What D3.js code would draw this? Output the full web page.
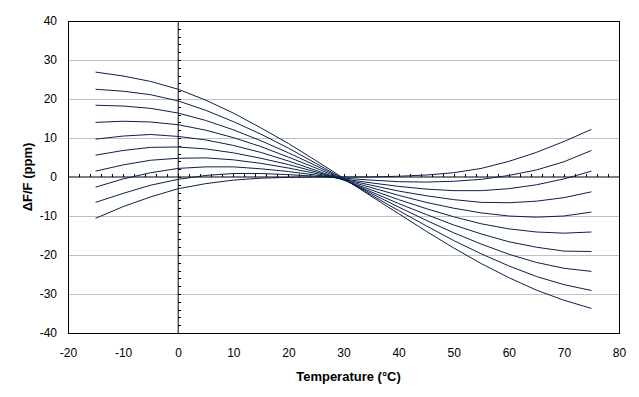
<!DOCTYPE html>
<html>
<head>
<meta charset="utf-8">
<script src="https://cdn.jsdelivr.net/npm/d3@7"></script>
<style>
  body { margin: 0; background: #fff; }
  text { font-family: "Liberation Sans", Arial, sans-serif; }
</style>
</head>
<body>
<div id="chart"></div>
<script>
// temperature points (°C)
var temps = [-15, -10, -5, 0, 5, 10, 15, 20, 25, 30, 35, 40, 45, 50, 55, 60, 65, 70, 75];

// frequency deviation curves (ppm), one per cut angle
var curve1  = [26.9, 25.9, 24.5, 22.5, 19.7, 16.4, 12.6, 8.6, 4.2, -0.3, -4.9, -9.4, -13.9, -18.2, -22.2, -25.8, -29.0, -31.6, -33.7];
var curve2  = [22.5, 22.0, 21.1, 19.5, 17.1, 14.2, 11.0, 7.4, 3.5, -0.5, -4.6, -8.6, -12.5, -16.3, -19.7, -22.8, -25.5, -27.6, -29.1];
var curve3  = [18.4, 18.2, 17.6, 16.4, 14.5, 12.1, 9.3, 6.2, 2.9, -0.6, -4.2, -7.7, -11.1, -14.3, -17.2, -19.8, -21.9, -23.4, -24.2];
var curve4  = [14.0, 14.3, 14.1, 13.4, 12.0, 10.1, 7.8, 5.1, 2.3, -0.7, -3.8, -6.8, -9.6, -12.3, -14.6, -16.6, -18.0, -19.0, -19.1];
var curve5  = [9.7, 10.5, 10.9, 10.4, 9.5, 8.1, 6.3, 4.1, 1.7, -0.8, -3.3, -5.8, -8.1, -10.2, -12.0, -13.3, -14.1, -14.4, -14.1];
var curve6  = [5.6, 6.8, 7.6, 7.7, 7.2, 6.2, 4.8, 3.2, 1.3, -0.7, -2.7, -4.7, -6.5, -8.0, -9.2, -10.0, -10.3, -10.0, -9.0];
var curve7  = [1.5, 3.1, 4.3, 4.8, 4.9, 4.4, 3.5, 2.3, 0.9, -0.6, -2.1, -3.6, -4.8, -5.8, -6.5, -6.6, -6.2, -5.3, -3.8];
var curve8  = [-2.6, -0.5, 1.1, 2.2, 2.6, 2.6, 2.1, 1.4, 0.5, -0.5, -1.5, -2.4, -3.1, -3.5, -3.5, -3.0, -2.0, -0.5, 1.5];
var curve9  = [-6.5, -4.2, -2.1, -0.6, 0.4, 0.9, 0.9, 0.6, 0.2, -0.3, -0.8, -1.2, -1.3, -1.1, -0.6, 0.4, 1.8, 3.9, 6.8];
var curve10 = [-10.6, -7.6, -5.1, -3.0, -1.7, -0.8, -0.3, -0.1, 0.0, 0.0, 0.0, 0.2, 0.5, 1.1, 2.2, 4.0, 6.3, 9.1, 12.2];

var curves = [curve1, curve2, curve3, curve4, curve5, curve6, curve7, curve8, curve9, curve10];

// axis ticks
var xTicks = [-20, -10, 0, 10, 20, 30, 40, 50, 60, 70, 80];
var yTicks = [-40, -30, -20, -10, 0, 10, 20, 30, 40];
var xTitle = "Temperature (°C)";
var yTitle = "ΔF/F (ppm)";

var margin = {top: 21, right: 20, bottom: 64, left: 68},
    width = 639 - margin.left - margin.right,
    height = 397 - margin.top - margin.bottom;

// plain hyphen minus like the original labels
var plain = function(d) { return String(d); };

var svg = d3.select("#chart")
  .append("svg")
    .attr("width", 639)
    .attr("height", 397)
  .append("g")
    .attr("transform", "translate(" + margin.left + "," + margin.top + ")");

var x = d3.scaleLinear().domain([-20, 80]).range([0, width]);
var y = d3.scaleLinear().domain([-40, 40]).range([height, 0]);

// grey gridlines every 10 ppm
svg.append("g")
  .selectAll("line")
  .data(yTicks.filter(function(d) { return d !== 0 && Math.abs(d) !== 40; }))
  .enter().append("line")
    .attr("x1", 0).attr("x2", width)
    .attr("y1", function(d) { return y(d); })
    .attr("y2", function(d) { return y(d); })
    .attr("stroke", "#c0c0c0")
    .attr("shape-rendering", "crispEdges");

// plot frame
svg.append("rect")
  .attr("x", 0).attr("y", 0)
  .attr("width", width).attr("height", height)
  .attr("fill", "none")
  .attr("stroke", "#000")
  .attr("shape-rendering", "crispEdges");

// tick labels sit outside the frame (low position)
svg.append("g")
  .attr("transform", "translate(0," + height + ")")
  .call(d3.axisBottom(x).tickValues(xTicks).tickSize(0).tickPadding(15).tickFormat(plain))
  .call(function(g) { g.select(".domain").remove(); })
  .selectAll("text")
    .style("font-size", "12px")
    .attr("fill", "#000");

svg.append("g")
  .call(d3.axisLeft(y).tickValues(yTicks).tickSize(0).tickPadding(11).tickFormat(plain))
  .call(function(g) { g.select(".domain").remove(); })
  .selectAll("text")
    .style("font-size", "12px")
    .attr("fill", "#000");

// crossing axes through zero with small minor ticks
var xAxisZero = svg.append("g")
  .attr("transform", "translate(0," + y(0) + ")")
  .call(d3.axisTop(x).tickValues(d3.range(-18, 80, 2)).tickSize(3).tickFormat(""));
xAxisZero.select(".domain").attr("d", "M0,0H" + width);

var yAxisZero = svg.append("g")
  .attr("transform", "translate(" + x(0) + ",0)")
  .call(d3.axisRight(y).tickValues(d3.range(-38, 40, 2)).tickSize(3).tickFormat(""));
yAxisZero.select(".domain").attr("d", "M0,0V" + height);

svg.selectAll(".tick line").attr("shape-rendering", "crispEdges");

// curves
var line = d3.line()
  .x(function(d, i) { return x(temps[i]); })
  .y(function(d) { return y(d); });

svg.selectAll(".curve")
  .data(curves)
  .enter().append("path")
    .attr("class", "curve")
    .attr("d", line)
    .attr("fill", "none")
    .attr("stroke", "#0c2148")
    .attr("stroke-width", 1);

// axis titles
svg.append("text")
  .attr("x", width / 2 + 5)
  .attr("y", height + 48)
  .attr("text-anchor", "middle")
  .style("font-size", "13px")
  .style("font-weight", "bold")
  .text(xTitle);

svg.append("text")
  .attr("transform", "translate(" + (32 - margin.left) + "," + y(0) + ") rotate(-90)")
  .attr("text-anchor", "middle")
  .style("font-size", "13px")
  .style("font-weight", "bold")
  .text(yTitle);
</script>
</body>
</html>
